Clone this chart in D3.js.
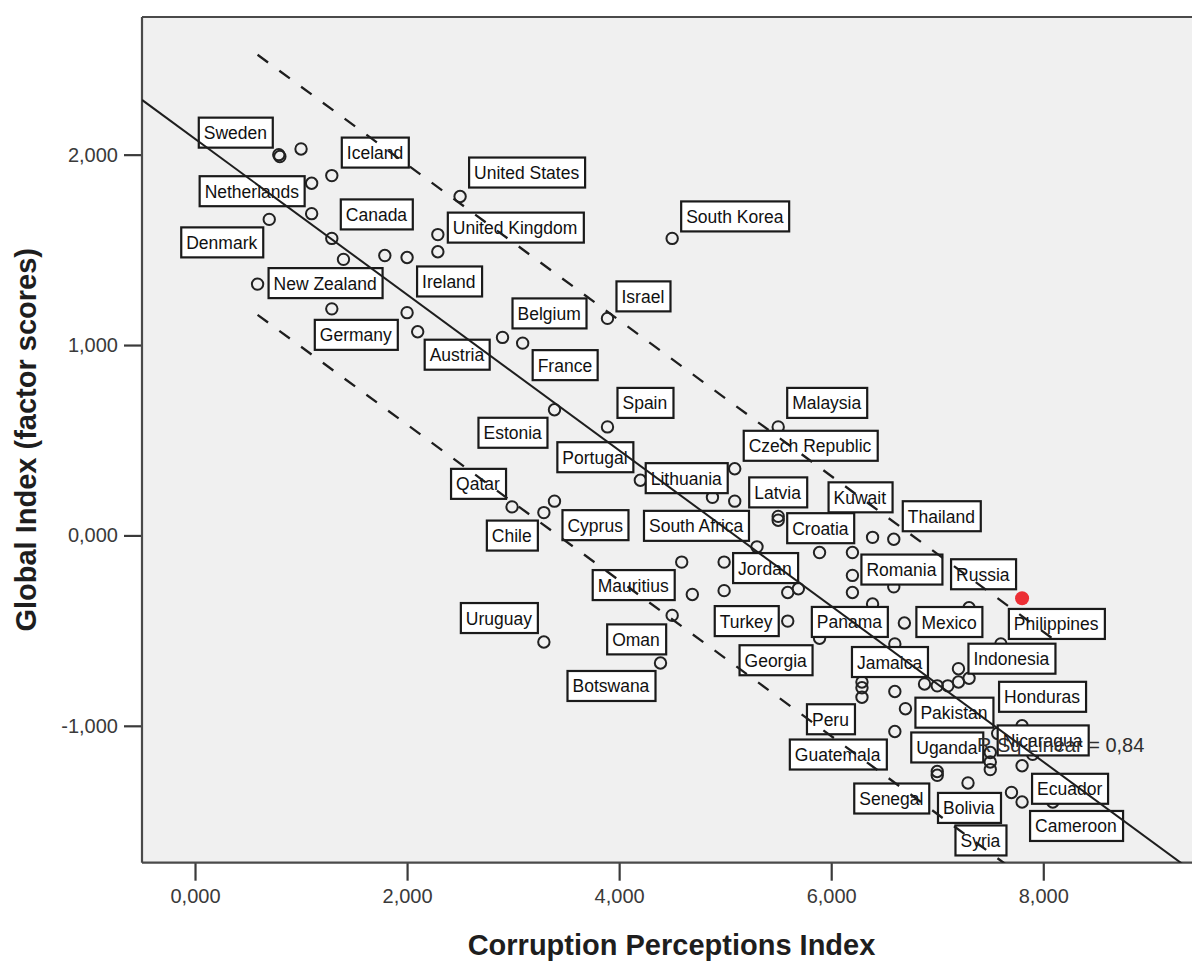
<!DOCTYPE html>
<html>
<head>
<meta charset="utf-8">
<script src="https://cdn.jsdelivr.net/npm/d3@7"></script>
<style>
  body { margin: 0; background: #ffffff; }
  svg { display: block; }
</style>
</head>
<body>
<svg id="chart" width="1192" height="963"></svg>
<script>
// Country scores: inverted Corruption Perceptions Index vs. global index factor score
const pointLabel = [
  "Sweden", "", "", "Iceland", "Netherlands", "", "Denmark", "Canada", "", "",
  "Ireland", "New Zealand", "Germany", "United States", "United Kingdom", "", "South Korea", "", "Austria", "Belgium",
  "France", "Israel", "Estonia", "Spain", "Malaysia", "Portugal", "Czech Republic", "", "Lithuania", "Qatar",
  "Cyprus", "Chile", "Latvia", "Croatia", "South Africa", "Mauritius", "Jordan", "", "Romania", "Kuwait",
  "Thailand", "", "", "", "", "", "", "", "Oman", "Turkey",
  "Mexico", "Georgia", "Panama", "Russia", "Philippines", "", "", "Indonesia", "", "",
  "", "", "", "Jamaica", "", "Peru", "", "Pakistan", "Guatemala", "Uruguay",
  "Botswana", "Honduras", "Nicaragua", "", "Uganda", "", "", "Ecuador", "Senegal", "",
  "Bolivia", "Syria", "Cameroon", ""
];
const pointCPI = [
  0.79, 0.80, 1.00, 1.29, 1.10, 1.10, 0.70, 1.29, 1.40, 1.79,
  2.00, 0.59, 1.29, 2.50, 2.29, 2.29, 4.50, 2.00, 2.10, 2.90,
  3.09, 3.89, 3.39, 3.89, 5.50, 4.20, 5.09, 4.88, 5.09, 2.99,
  3.39, 3.29, 5.50, 5.50, 5.30, 4.59, 4.99, 5.89, 6.20, 6.39,
  6.59, 6.20, 6.20, 6.59, 5.69, 5.59, 4.69, 4.99, 4.50, 5.59,
  6.69, 5.89, 6.60, 7.80, 7.60, 7.30, 6.39, 7.20, 7.30, 7.20,
  7.10, 7.00, 6.88, 6.29, 6.29, 6.29, 6.60, 6.70, 6.60, 3.29,
  4.39, 7.80, 7.57, 7.90, 7.50, 7.50, 7.50, 7.80, 7.00, 7.00,
  7.29, 7.70, 7.80, 8.09
];
const pointGlobal = [
  2.00, 1.99, 2.03, 1.89, 1.85, 1.69, 1.66, 1.56, 1.45, 1.47,
  1.46, 1.32, 1.19, 1.78, 1.58, 1.49, 1.56, 1.17, 1.07, 1.04,
  1.01, 1.14, 0.66, 0.57, 0.57, 0.29, 0.35, 0.20, 0.18, 0.15,
  0.18, 0.12, 0.10, 0.08, -0.06, -0.14, -0.14, -0.09, -0.09, -0.01,
  -0.02, -0.21, -0.30, -0.27, -0.28, -0.30, -0.31, -0.29, -0.42, -0.45,
  -0.46, -0.54, -0.57, -0.33, -0.57, -0.38, -0.36, -0.70, -0.75, -0.77,
  -0.79, -0.79, -0.78, -0.77, -0.80, -0.85, -0.82, -0.91, -1.03, -0.56,
  -0.67, -1.00, -1.04, -1.15, -1.14, -1.19, -1.23, -1.21, -1.24, -1.26,
  -1.30, -1.35, -1.40, -1.40
];
const highlightedCountry = "Russia";

const xTicks = [0, 2, 4, 6, 8];
const yTicks = [-1, 0, 1, 2];
const xTitle = "Corruption Perceptions Index";
const yTitle = "Global Index (factor scores)";

// Linear fit and 95% individual prediction band half-width
const fitIntercept = 2.083;
const fitSlope = -0.409;
const predictionHalfWidth = 0.683;
const rSquared = 0.84;

// Label box placement relative to its point: [anchor edge, dx px, dy px]
const labelPlacement = {
  "Sweden": ["end", -6, -37], "Iceland": ["start", 10, -38], "Netherlands": ["end", -7, -7],
  "Canada": ["start", 9, -39], "Denmark": ["end", -6, 8], "New Zealand": ["start", 11, -16],
  "United States": ["start", 9, -39], "United Kingdom": ["start", 10, -22], "Ireland": ["start", 10, 9],
  "South Korea": ["start", 9, -37], "Israel": ["start", 9, -37], "Belgium": ["start", 10, -39],
  "Germany": ["start", -17, 11], "Austria": ["start", 7, 8], "France": ["start", 10, 7],
  "Spain": ["start", 10, -39], "Estonia": ["end", -7, 8], "Malaysia": ["start", 9, -39],
  "Czech Republic": ["start", 9, -38], "Portugal": ["end", -7, -38], "Lithuania": ["end", -7, -38],
  "Qatar": ["end", -6, -38], "Chile": ["end", -6, 8], "Cyprus": ["start", 8, 9],
  "South Africa": ["end", -8, -36], "Latvia": ["start", -29, -39], "Croatia": ["start", 9, -7],
  "Kuwait": ["start", -44, -55], "Thailand": ["start", 9, -38], "Romania": ["start", 9, 2],
  "Jordan": ["start", 9, -9], "Mauritius": ["end", -7, 8], "Russia": ["end", -6, -39],
  "Turkey": ["end", -9, -15], "Uruguay": ["end", -6, -39], "Oman": ["end", -6, 9],
  "Botswana": ["end", -5, 8], "Georgia": ["end", -7, 7], "Panama": ["end", -7, -37],
  "Mexico": ["start", 12, -16], "Philippines": ["start", 8, -35], "Jamaica": ["start", -10, -35],
  "Indonesia": ["start", 10, -25], "Honduras": ["start", -23, -44], "Nicaragua": ["start", 0, -8],
  "Pakistan": ["start", 10, -11], "Peru": ["end", -7, 7], "Guatemala": ["end", -8, 8],
  "Uganda": ["end", -7, -20], "Senegal": ["end", -8, 12], "Bolivia": ["start", -30, 10],
  "Syria": ["end", -5, 33], "Ecuador": ["start", 10, 8], "Cameroon": ["start", 8, 9]
};
const r2TextPos = [7.375, -1.135];

const points = pointCPI.map((v, i) => ({ x: v, y: pointGlobal[i], label: pointLabel[i] }));

const svg = d3.select("#chart");
const W = 1192, H = 963;
const plot = { left: 142, top: 17, right: 1193, bottom: 862.7 };

const x = d3.scaleLinear().domain([-0.5, 9.412]).range([plot.left, plot.right]);
const y = d3.scaleLinear().domain([-1.719, 2.723]).range([plot.bottom, plot.top]);

const locale = d3.formatLocale({ decimal: ",", thousands: ".", grouping: [3], currency: ["", ""], minus: "-" });
const fmt3 = locale.format(".3f");
const fmt2 = locale.format(".2f");

svg.append("rect").attr("width", W).attr("height", H).attr("fill", "#ffffff");

// plot background
svg.append("rect")
  .attr("x", plot.left).attr("y", plot.top)
  .attr("width", plot.right - plot.left).attr("height", plot.bottom - plot.top)
  .attr("fill", "#f0f0f0");

svg.append("clipPath").attr("id", "plotClip")
  .append("rect")
  .attr("x", plot.left).attr("y", plot.top)
  .attr("width", plot.right - plot.left).attr("height", plot.bottom - plot.top);

// axes
const axisFont = "'Liberation Sans', Arial, sans-serif";
const yAxis = svg.append("g")
  .attr("transform", `translate(${plot.left},0)`)
  .call(d3.axisLeft(y).tickValues(yTicks).tickFormat(fmt3).tickSize(18).tickPadding(6));
const xAxis = svg.append("g")
  .attr("transform", `translate(0,${plot.bottom})`)
  .call(d3.axisBottom(x).tickValues(xTicks).tickFormat(fmt3).tickSize(18).tickPadding(8));
[yAxis, xAxis].forEach(g => {
  g.select(".domain").remove();
  g.selectAll(".tick line").attr("stroke", "#3a3a3a").attr("stroke-width", 2.2);
  g.selectAll(".tick text")
    .attr("fill", "#3a3a3a")
    .style("font-family", axisFont)
    .style("font-size", "20px");
});

// frame
const frame = svg.append("g").attr("stroke", "#4a4a4a").attr("stroke-width", 2.2).attr("fill", "none");
frame.append("line").attr("x1", plot.left).attr("x2", plot.left).attr("y1", plot.top).attr("y2", plot.bottom);
frame.append("line").attr("x1", plot.left).attr("x2", plot.right).attr("y1", plot.bottom).attr("y2", plot.bottom);
frame.append("line").attr("x1", plot.left).attr("x2", plot.right).attr("y1", plot.top).attr("y2", plot.top);

// axis titles
svg.append("text")
  .attr("x", (plot.left + plot.right) / 2 + 4).attr("y", 955)
  .attr("text-anchor", "middle")
  .style("font-family", axisFont).style("font-size", "29px").style("font-weight", "bold")
  .attr("fill", "#1e1e1e")
  .text(xTitle);
svg.append("text")
  .attr("transform", `translate(36,${(plot.top + plot.bottom) / 2}) rotate(-90)`)
  .attr("text-anchor", "middle")
  .style("font-family", axisFont).style("font-size", "29px").style("font-weight", "bold")
  .attr("fill", "#1e1e1e")
  .text(yTitle);

const inner = svg.append("g").attr("clip-path", "url(#plotClip)");

// points
inner.append("g").selectAll("circle")
  .data(points)
  .join("circle")
  .attr("cx", d => x(d.x))
  .attr("cy", d => y(d.y))
  .attr("r", d => d.label === highlightedCountry ? 7 : 5.7)
  .attr("fill", d => d.label === highlightedCountry ? "#ec2f35" : "none")
  .attr("stroke", d => d.label === highlightedCountry ? "none" : "#222")
  .attr("stroke-width", 2);

// label boxes
const labelFont = "'Liberation Sans', Arial, sans-serif";
const labels = inner.append("g").selectAll("g")
  .data(points.filter(d => d.label))
  .join("g");
labels.each(function (d) {
  const g = d3.select(this);
  const rect = g.append("rect");
  const txt = g.append("text")
    .style("font-family", labelFont)
    .style("font-size", "17.5px")
    .attr("fill", "#111")
    .text(d.label);
  const tw = txt.node().getComputedTextLength();
  const bw = Math.round(tw + 11);
  const bh = 30;
  const [anchor, dx, dy] = labelPlacement[d.label];
  const px = x(d.x), py = y(d.y);
  const left = anchor === "end" ? px + dx - bw : px + dx;
  const top = py + dy;
  rect.attr("x", left).attr("y", top).attr("width", bw).attr("height", bh)
    .attr("fill", "#ffffff").attr("stroke", "#1a1a1a").attr("stroke-width", 2.2);
  txt.attr("x", left + 5).attr("y", top + 21.5);
});

// fit line across the full plot width
const fitY = v => fitIntercept + fitSlope * v;
const lineGen = d3.line().x(d => x(d[0])).y(d => y(d[1]));
const xd = x.domain();
inner.append("path")
  .attr("d", lineGen([[xd[0], fitY(xd[0])], [xd[1], fitY(xd[1])]]))
  .attr("fill", "none").attr("stroke", "#1e1e1e").attr("stroke-width", 2);

// prediction band over the data range
const [xmin, xmax] = d3.extent(pointCPI);
[predictionHalfWidth, -predictionHalfWidth].forEach(off => {
  inner.append("path")
    .attr("d", lineGen([[xmin, fitY(xmin) + off], [xmax, fitY(xmax) + off]]))
    .attr("fill", "none").attr("stroke", "#1e1e1e").attr("stroke-width", 2.3)
    .attr("stroke-dasharray", "13,14");
});

// R squared annotation
svg.append("text")
  .attr("x", x(r2TextPos[0])).attr("y", y(r2TextPos[1]))
  .style("font-family", axisFont).style("font-size", "20px")
  .attr("fill", "#2e2e2e")
  .text(`R Sq Linear = ${fmt2(rSquared)}`);
</script>
</body>
</html>
